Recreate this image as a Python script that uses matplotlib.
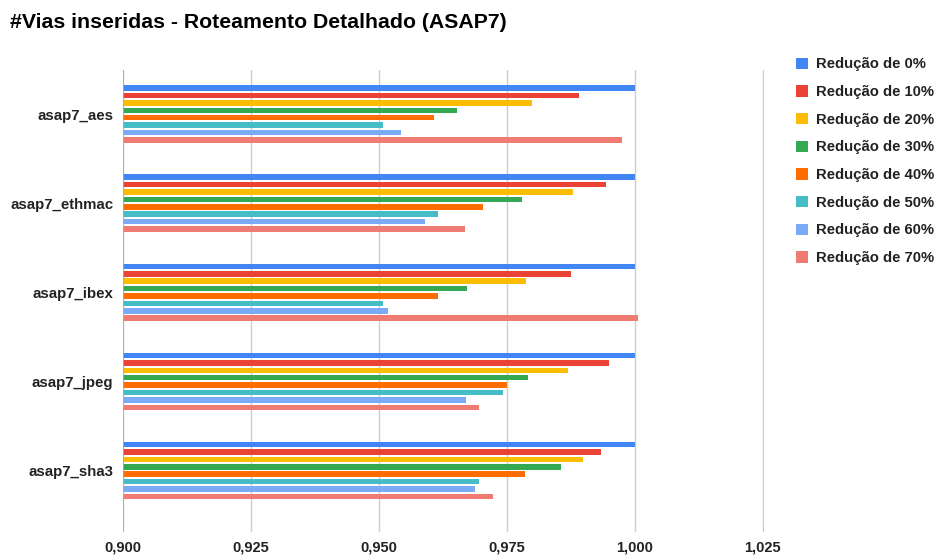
import matplotlib
matplotlib.use("Agg")
import matplotlib.pyplot as plt
import numpy as np

plt.rcParams['font.family'] = ['Liberation Sans', 'DejaVu Sans']

# designs and the reduction levels
designs = ["asap7_aes", "asap7_ethmac", "asap7_ibex", "asap7_jpeg", "asap7_sha3"]
reducoes = ["Redução de 0%", "Redução de 10%", "Redução de 20%", "Redução de 30%",
            "Redução de 40%", "Redução de 50%", "Redução de 60%", "Redução de 70%"]

# normalized via counts, one list per reduction (same order as designs)
red_0 = [1.000, 1.000, 1.000, 1.000, 1.000]
red_10 = [0.9892, 0.9945, 0.9875, 0.9950, 0.9934]
red_20 = [0.9799, 0.9880, 0.9787, 0.9869, 0.9899]
red_30 = [0.9653, 0.9780, 0.9673, 0.9792, 0.9857]
red_40 = [0.9608, 0.9704, 0.9615, 0.9750, 0.9785]
red_50 = [0.9508, 0.9615, 0.9508, 0.9743, 0.9695]
red_60 = [0.9544, 0.9591, 0.9518, 0.9671, 0.9689]
red_70 = [0.9976, 0.9668, 1.0007, 0.9696, 0.9723]

series = [red_0, red_10, red_20, red_30, red_40, red_50, red_60, red_70]
cores = ["#4285F4", "#EA4335", "#FBBC04", "#34A853",
         "#FF6D01", "#46BDC6", "#7BAAF7", "#F07B72"]
xticks = [0.900, 0.925, 0.950, 0.975, 1.000, 1.025]

fig = plt.figure(figsize=(9.37, 5.57), dpi=100)
x0, x1 = 0.9, 1.0252
ax = fig.add_axes([123/937, 1 - 532/557, (762.5 - 123)/937 * (x1 - x0) / 0.125, (532 - 70)/557])

base = 0.9
pos = np.arange(len(designs))
passo = 0.083
handles = []
for i, vals in enumerate(series):
    y = pos + (i - 3.5) * passo
    b = ax.barh(y, np.array(vals) - base, left=base, height=0.062,
                color=cores[i], label=reducoes[i], zorder=3)
    handles.append(b)

ax.set_xlim(x0, x1)
ax.set_ylim(4.69, -0.494)
ax.set_xticks(xticks)
ax.set_xticklabels([f"{v:.3f}".replace(".", ",") for v in xticks],
                   fontsize=10.5, fontweight='bold', color='#222222')
ax.set_yticks(pos)
ax.set_yticklabels(designs, fontsize=10.8, fontweight='bold', color='#222222')
ax.tick_params(axis='x', length=0, pad=6)
ax.tick_params(axis='y', length=0, pad=7)
ax.grid(axis='x', color='#cccccc', linewidth=1, zorder=0)
ax.axvline(0.9, color='#aaaaaa', linewidth=1.2, zorder=4)
for s in ax.spines.values():
    s.set_visible(False)

fig.text(10/937, 1 - 22/557, "#Vias inseridas - Roteamento Detalhado (ASAP7)",
         fontsize=15.3, fontweight='bold', va='center', ha='left', color='#000000')

fig.legend(handles=handles, loc='upper left', bbox_to_anchor=(783/937, 1 - 44/557),
           frameon=False, prop={'size': 10.7, 'weight': 'bold'},
           handlelength=0.8, handleheight=0.8, handletextpad=0.55,
           labelspacing=0.92, labelcolor='#222222')

fig.savefig("out.png", dpi=100)
